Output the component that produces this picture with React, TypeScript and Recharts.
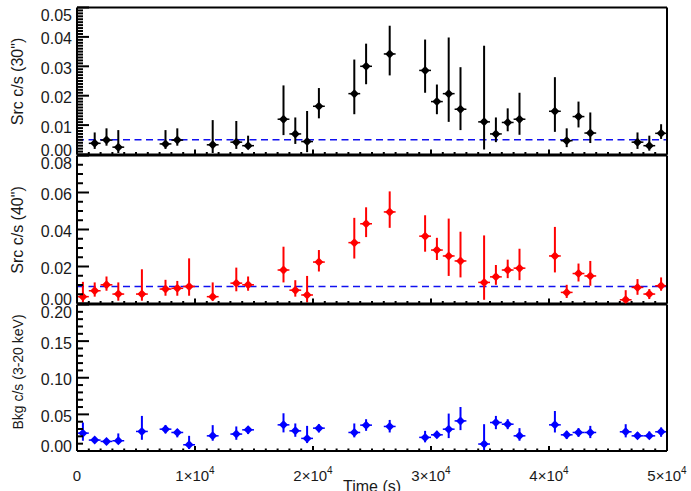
import React from 'react';
import { ScatterChart, Scatter, XAxis, YAxis, ErrorBar, ReferenceLine } from 'recharts';

// bin centres (s) and count rates
const src30Times = [
  1500, 2500, 3500, 7500, 8500, 11500, 13500, 14500, 17500, 18500, 19500, 20500,
  23500, 24500, 26500, 29500, 30500, 31500, 32500, 34500, 35500, 36500, 37500,
  40500, 41500, 42500, 43500, 47500, 48500, 49500,
];
const src30Rate = [
  0.0038, 0.0049, 0.0025, 0.0036, 0.0049, 0.0033, 0.0042, 0.0030, 0.0120, 0.0070, 0.0044, 0.0164,
  0.0207, 0.0300, 0.0342, 0.0286, 0.0180, 0.0207, 0.0154, 0.0111, 0.0070, 0.0109, 0.0120,
  0.0147, 0.0047, 0.0129, 0.0073, 0.0042, 0.0030, 0.0072,
];
const src30Lo = [
  0.0019, 0.0030, 0.0005, 0.0019, 0.0030, 0.0005, 0.0019, 0.0019, 0.0066, 0.0036, 0.0008, 0.0123,
  0.0137, 0.0239, 0.0269, 0.0210, 0.0137, 0.0111, 0.0083, 0.0017, 0.0042, 0.0079, 0.0067,
  0.0077, 0.0025, 0.0092, 0.0039, 0.0019, 0.0013, 0.0053,
];
const src30Hi = [
  0.0075, 0.0089, 0.0083, 0.0083, 0.0089, 0.0117, 0.0114, 0.0064, 0.0235, 0.0126, 0.0148, 0.0226,
  0.0323, 0.0377, 0.0438, 0.0391, 0.0238, 0.0398, 0.0297, 0.0370, 0.0126, 0.0157, 0.0210,
  0.0263, 0.0089, 0.0180, 0.0143, 0.0075, 0.0064, 0.0103,
];

const binTimes = [
  500, 1500, 2500, 3500, 5500, 7500, 8500, 9500, 11500, 13500, 14500, 17500, 18500, 19500, 20500,
  23500, 24500, 26500, 29500, 30500, 31500, 32500, 34500, 35500, 36500, 37500,
  40500, 41500, 42500, 43500, 46500, 47500, 48500, 49500,
];
const src40Rate = [
  0.0037, 0.0069, 0.0101, 0.0051, 0.0051, 0.0078, 0.0082, 0.0092, 0.0037, 0.0110, 0.0101, 0.0181, 0.0072, 0.0046, 0.0224,
  0.0329, 0.0431, 0.0495, 0.0364, 0.0289, 0.0257, 0.0230, 0.0114, 0.0144, 0.0181, 0.0191,
  0.0257, 0.0060, 0.0162, 0.0149, 0.0020, 0.0087, 0.0051, 0.0096,
];
const src40Lo = [
  0.0006, 0.0037, 0.0069, 0.0015, 0.0015, 0.0042, 0.0042, 0.0042, 0.0015, 0.0066, 0.0069, 0.0114, 0.0037, 0.0006, 0.0173,
  0.0243, 0.0359, 0.0409, 0.0280, 0.0235, 0.0149, 0.0141, 0.0020, 0.0101, 0.0137, 0.0126,
  0.0168, 0.0030, 0.0119, 0.0096, 0.0006, 0.0047, 0.0024, 0.0069,
];
const src40Hi = [
  0.0117, 0.0114, 0.0146, 0.0114, 0.0185, 0.0128, 0.0122, 0.0244, 0.0114, 0.0194, 0.0146, 0.0307, 0.0126, 0.0149, 0.0289,
  0.0463, 0.0520, 0.0606, 0.0477, 0.0355, 0.0459, 0.0388, 0.0368, 0.0208, 0.0237, 0.0296,
  0.0414, 0.0101, 0.0216, 0.0230, 0.0072, 0.0132, 0.0078, 0.0141,
];

const bkgRate = [
  0.0244, 0.0149, 0.0131, 0.0140, 0.0267, 0.0298, 0.0253, 0.0085, 0.0207, 0.0231, 0.0289, 0.0357, 0.0275, 0.0172, 0.0312,
  0.0253, 0.0353, 0.0335, 0.0186, 0.0221, 0.0298, 0.0411, 0.0095, 0.0389, 0.0366, 0.0207,
  0.0357, 0.0221, 0.0253, 0.0253, 0.0262, 0.0207, 0.0207, 0.0262,
];
const bkgLo = [
  0.0140, 0.0118, 0.0100, 0.0104, 0.0153, 0.0240, 0.0186, 0.0027, 0.0140, 0.0153, 0.0231, 0.0254, 0.0194, 0.0108, 0.0254,
  0.0186, 0.0275, 0.0253, 0.0118, 0.0176, 0.0176, 0.0285, 0.0014, 0.0298, 0.0298, 0.0140,
  0.0253, 0.0163, 0.0194, 0.0176, 0.0186, 0.0163, 0.0176, 0.0194,
];
const bkgHi = [
  0.0389, 0.0185, 0.0160, 0.0240, 0.0479, 0.0353, 0.0298, 0.0207, 0.0353, 0.0335, 0.0335, 0.0515, 0.0376, 0.0343, 0.0366,
  0.0376, 0.0434, 0.0424, 0.0275, 0.0275, 0.0511, 0.0601, 0.0366, 0.0479, 0.0434, 0.0312,
  0.0546, 0.0275, 0.0312, 0.0343, 0.0366, 0.0253, 0.0267, 0.0321,
];

const halfBin = 500;
const src30Level = 0.005;
const src40Level = 0.0092;

const xMajor = [0, 10000, 20000, 30000, 40000, 50000];
const src30Major = [0, 0.01, 0.02, 0.03, 0.04, 0.05];
const src40Major = [0, 0.02, 0.04, 0.06, 0.08];
const bkgMajor = [0, 0.05, 0.1, 0.15, 0.2];

const FONT = '"Liberation Sans", Arial, Helvetica, sans-serif';
const INK = '#1a1a1a';
const W = 691;
const PLOT_LEFT = 77;
const PLOT_RIGHT = 667;

function withMinors(majors: number[], sub: number) {
  const out: number[] = [];
  for (let i = 0; i < majors.length - 1; i++) {
    const step = (majors[i + 1] - majors[i]) / sub;
    for (let k = 0; k < sub; k++) out.push(+(majors[i] + k * step).toFixed(6));
  }
  out.push(majors[majors.length - 1]);
  return out;
}

const isMajor = (v: number, majors: number[]) => majors.some((m) => Math.abs(m - v) < 1e-9);

function rows(times: number[], rate: number[], lo: number[], hi: number[]) {
  return times.map((t, i) => ({
    t,
    v: rate[i],
    ey: [rate[i] - lo[i], hi[i] - rate[i]],
    ex: halfBin,
  }));
}

function yTick(side: 'left' | 'right', majors: number[]) {
  const top = majors[majors.length - 1];
  return (p: any) => {
    const v = p.payload.value;
    const major = isMajor(v, majors);
    const len = major ? 12 : 6;
    const x0 = side === 'left' ? p.x : p.x - 1;
    const x1 = side === 'left' ? x0 + len : x0 - len;
    let off = 2;
    if (v === top) off = 7.5;
    if (v === 0) off = -4.5;
    return (
      <g>
        <path d={`M${x0},${p.y}H${x1}`} stroke="#000" strokeWidth={2} />
        {side === 'left' && major && (
          <text x={p.x - 5} y={p.y + off + 5.5} textAnchor="end" fontSize={16} fontFamily={FONT} fill={INK}>
            {v.toFixed(2)}
          </text>
        )}
      </g>
    );
  };
}

function xTick(side: 'top' | 'bottom', labelled: boolean) {
  return (p: any) => {
    const v = p.payload.value;
    const major = isMajor(v, xMajor);
    const len = major ? 5 : 2.5;
    const y0 = side === 'top' ? p.y + 1 : p.y;
    const y1 = side === 'top' ? y0 + len : y0 - len;
    return (
      <g>
        <path d={`M${p.x},${y0}V${y1}`} stroke="#000" strokeWidth={2} />
        {labelled && major && (
          <text x={p.x} y={p.y + 30} textAnchor="middle" fontSize={15} fontFamily={FONT} fill={INK}>
            {v === 0 ? (
              '0'
            ) : (
              <>
                <tspan>{`${v / 10000}×10`}</tspan>
                <tspan dy={-7} fontSize={10}>4</tspan>
              </>
            )}
          </text>
        )}
      </g>
    );
  };
}

const diamond = (color: string) => (p: any) => {
  const { cx, cy } = p;
  const r = 4.5;
  return <polygon points={`${cx},${cy - r} ${cx + r},${cy} ${cx},${cy + r} ${cx - r},${cy}`} fill={color} />;
};

const xTicks = withMinors(xMajor, 10);

type PanelProps = {
  top: number;
  height: number;
  plotTop: number;
  plotBottom: number;
  majors: number[];
  sub: number;
  data: ReturnType<typeof rows>;
  color: string;
  level?: number;
  labelled?: boolean;
};

function Panel({ top, height, plotTop, plotBottom, majors, sub, data, color, level, labelled }: PanelProps) {
  const yTicks = withMinors(majors, sub);
  const domain = [majors[0], majors[majors.length - 1]];
  return (
    <div style={{ position: 'absolute', left: 0, top }}>
      <ScatterChart
        width={W}
        height={height}
        margin={{ top: plotTop - top - 1, bottom: top + height - plotBottom, left: 0, right: W - PLOT_RIGHT - 1 }}
      >
        <XAxis
          xAxisId="b"
          type="number"
          dataKey="t"
          domain={[0, 50000]}
          ticks={xTicks}
          interval={0}
          height={1}
          tickSize={0}
          tickMargin={0}
          tickLine={false}
          axisLine={{ stroke: '#000', strokeWidth: 2 }}
          tick={xTick('bottom', !!labelled)}
        />
        <XAxis
          xAxisId="t"
          orientation="top"
          type="number"
          dataKey="t"
          domain={[0, 50000]}
          ticks={xTicks}
          interval={0}
          height={1}
          tickSize={0}
          tickMargin={0}
          tickLine={false}
          axisLine={{ stroke: '#000', strokeWidth: 2 }}
          tick={xTick('top', false)}
        />
        <YAxis
          yAxisId="l"
          type="number"
          dataKey="v"
          domain={domain}
          ticks={yTicks}
          interval={0}
          width={PLOT_LEFT}
          tickSize={0}
          tickMargin={0}
          tickLine={false}
          axisLine={{ stroke: '#000', strokeWidth: 2 }}
          tick={yTick('left', majors)}
        />
        <YAxis
          yAxisId="r"
          orientation="right"
          type="number"
          dataKey="v"
          domain={domain}
          ticks={yTicks}
          interval={0}
          width={1}
          tickSize={0}
          tickMargin={0}
          tickLine={false}
          axisLine={{ stroke: '#000', strokeWidth: 2 }}
          tick={yTick('right', majors)}
        />
        {level !== undefined && (
          <ReferenceLine
            xAxisId="b"
            yAxisId="l"
            y={level}
            stroke="#1010f0"
            strokeWidth={1.5}
            strokeDasharray="7 4.5"
          />
        )}
        <Scatter
          xAxisId="b"
          yAxisId="l"
          data={data}
          dataKey="v"
          shape={diamond(color)}
          isAnimationActive={false}
        >
          <ErrorBar dataKey="ey" direction="y" width={0} stroke={color} strokeWidth={2} />
          <ErrorBar dataKey="ex" direction="x" width={0} stroke={color} strokeWidth={1.5} />
        </Scatter>
      </ScatterChart>
    </div>
  );
}

const titleStyle = { fontFamily: FONT, fill: INK };

export default function App() {
  return (
    <div style={{ position: 'absolute', left: 0, top: 0, width: W, height: 491 }}>
      <Panel
        top={0}
        height={160}
        plotTop={7.5}
        plotBottom={155.5}
        majors={src30Major}
        sub={10}
        data={rows(src30Times, src30Rate, src30Lo, src30Hi)}
        color="#000000"
        level={src30Level}
      />
      <Panel
        top={150}
        height={160}
        plotTop={155.5}
        plotBottom={304.5}
        majors={src40Major}
        sub={4}
        data={rows(binTimes, src40Rate, src40Lo, src40Hi)}
        color="#ff0000"
        level={src40Level}
      />
      <Panel
        top={299}
        height={192}
        plotTop={304.5}
        plotBottom={452}
        majors={bkgMajor}
        sub={5}
        data={rows(binTimes, bkgRate, bkgLo, bkgHi)}
        color="#0000ff"
        labelled
      />
      <svg width={W} height={491} style={{ position: 'absolute', left: 0, top: 0, pointerEvents: 'none' }}>
        <text x={17.5} y={81.5} transform="rotate(-90 17.5 81.5)" textAnchor="middle" dominantBaseline="central" fontSize={16} {...titleStyle}>
          Src c/s (30")
        </text>
        <text x={17.5} y={230} transform="rotate(-90 17.5 230)" textAnchor="middle" dominantBaseline="central" fontSize={16} {...titleStyle}>
          Src c/s (40")
        </text>
        <text x={17.5} y={372} transform="rotate(-90 17.5 372)" textAnchor="middle" dominantBaseline="central" fontSize={14} {...titleStyle}>
          Bkg c/s (3-20 keV)
        </text>
        <text x={372} y={491.5} textAnchor="middle" fontSize={16} {...titleStyle}>
          Time (s)
        </text>
      </svg>
    </div>
  );
}
